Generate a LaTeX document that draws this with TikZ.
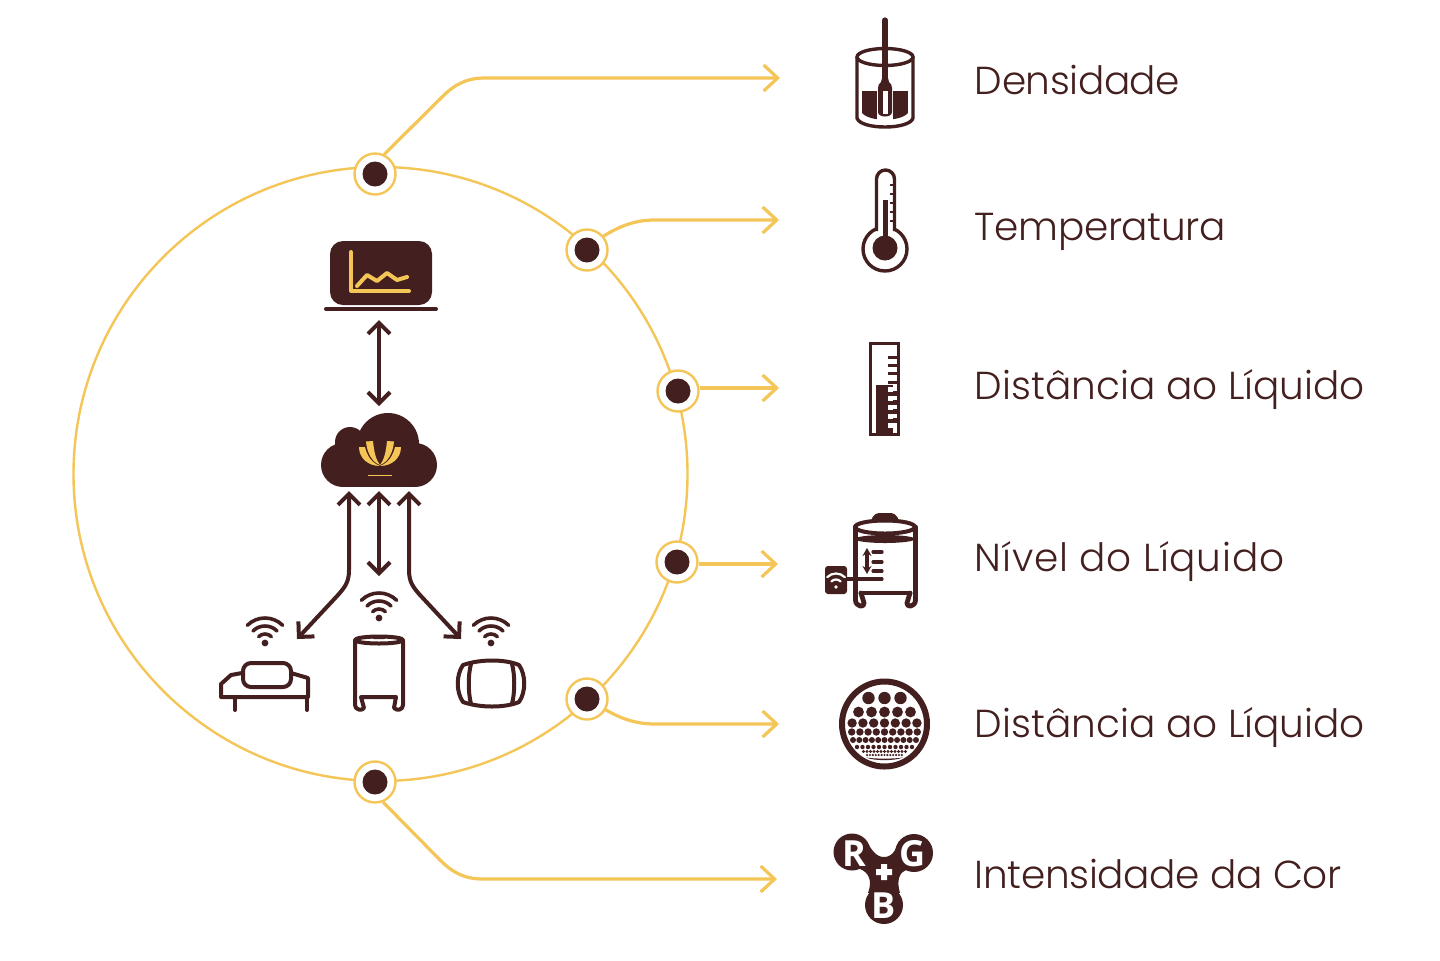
\documentclass[tikz,border=0pt]{standalone}
\usepackage{fontspec}
\setmainfont{Poppins}[UprightFont=* Light]
\newfontfamily\rgbf{Open Sans}
\usetikzlibrary{arrows.meta}
\definecolor{dk}{HTML}{43201F}
\definecolor{yl}{HTML}{F4C557}
\tikzset{
  x=0.5pt,y=-0.5pt,
  ring/.style={yl,line width=1.2pt},
  conn/.style={yl,line width=1.6pt,-{Straight Barb[length=7pt,width=13pt,line width=1.6pt]}},
  dot/.style={circle,draw=yl,fill=white,line width=1.2pt,minimum size=20.5pt,inner sep=0pt},
  link/.style={dk,line width=2pt,{Straight Barb[length=5.5pt,width=11pt]}-{Straight Barb[length=5.5pt,width=11pt]}},
  ln/.style={dk,line width=2pt,line cap=round,line join=round},
  lbl/.style={anchor=base west,text=dk,inner sep=0pt},
  wf/.style={dk,line width=1.8pt,line cap=round},
  wfw/.style={white,line width=1.1pt,line cap=round},
  rgb/.style={text=white,font=\rgbf\bfseries\fontsize{18}{18}\selectfont,inner sep=0pt}
}
\newcommand{\lblfont}[1]{\fontsize{19.5}{22}\selectfont\addfontfeatures{LetterSpace=#1}}
\newcommand{\wifi}[2]{%
  \fill[dk] (#1,#2) circle (3.4);
  \foreach \r in {9,17,25}{\draw[wf] ({#1+\r*cos(225)},{#2+\r*sin(225)}) arc[start angle=225,end angle=315,radius=\r*1];}
}
\begin{document}
\begin{tikzpicture}
\useasboundingbox (0,0) rectangle (1440,960);
\fill[white] (0,0) rectangle (1440,960);
\coordinate (c) at (380.5,474);
\coordinate (e1) at (780,78);
\coordinate (e2) at (779,220);
\coordinate (e3) at (779,388);
\coordinate (e4) at (778,564);
\coordinate (e5) at (779,724);
\coordinate (e6) at (777,879);
\draw[ring] (c) circle (307);
\node[dot] (d1) at (375,174) {};
\node[dot] (d2) at (587,250) {};
\node[dot] (d3) at (678,391) {};
\node[dot] (d4) at (677,562) {};
\node[dot] (d5) at (587,699) {};
\node[dot] (d6) at (375,782) {};
\foreach \n in {d1,d2,d3,d4,d5,d6}{\fill[dk] (\n) circle (12.5);}
\draw[conn] (d1.65) -- (442,97) .. controls (455,84) and (467,78) .. (485,78) -- (e1);
\draw[conn] (d2.40) .. controls (620,226) and (635,220) .. (655,220) -- (e2);
\draw[conn] (d3.east |- e3) -- (e3);
\draw[conn] (d4.east |- e4) -- (e4);
\draw[conn] (d5.-30) .. controls (620,718) and (635,724) .. (655,724) -- (e5);
\draw[conn] (d6.-68) -- (440,860) .. controls (453,873) and (465,879) .. (483,879) -- (e6);
% labels
\node[lbl,font=\lblfont{-1.1}] (t1) at (974.5,94) {Densidade};
\node[lbl,font=\lblfont{-0.9}] (t2) at (974.5,240) {Temperatura};
\node[lbl,font=\lblfont{0}] (t3) at (974.5,399) {Distância ao Líquido};
\node[lbl,font=\lblfont{1.9}] (t4) at (974.5,571) {Nível do Líquido};
\node[lbl,font=\lblfont{0}] (t5) at (974.5,737) {Distância ao Líquido};
\node[lbl,font=\lblfont{-0.85}] (t6) at (974.5,888) {Intensidade da Cor};
% laptop
\node[fill=dk,rounded corners=6.5pt,minimum width=51pt,minimum height=32pt,inner sep=0pt] (lap) at (381,273) {};
\draw[ln] (326,309) -- (436,309);
\draw[yl,line width=2pt,line cap=round,line join=round] (351,252) -- (351,291) -- (409,291);
\draw[yl,line width=2pt,line cap=round,line join=round] (357,286) -- (367,275) -- (377,281) -- (387,273) -- (397,280) -- (407,277);
% cloud
\fill[dk] (343,465) circle (22) (415,465) circle (22) (350,442) circle (15) (388,444) circle (31);
\fill[dk] (343,443) rectangle (415,487);
% lotus
\fill[yl] (359,447) -- (365,447) .. controls (367,456) and (372,463) .. (380,466) .. controls (368,466) and (359,458) .. (359,447) -- cycle;
\fill[yl] (401,447) -- (395,447) .. controls (393,456) and (388,463) .. (380,466) .. controls (392,466) and (401,458) .. (401,447) -- cycle;
\fill[yl] (366,441.5) -- (373,441) .. controls (374,452) and (376,460) .. (380,465) .. controls (372,462) and (367,453) .. (366,441.5) -- cycle;
\fill[yl] (394,441.5) -- (387,441) .. controls (386,452) and (384,460) .. (380,465) .. controls (388,462) and (393,453) .. (394,441.5) -- cycle;
\draw[yl,line width=.4pt] (368,475) -- (392,475);
% links
\draw[link] (379,320) -- (379,406);
\draw[link] (379,491) -- (379,576);
\draw[link] (349,491) -- (349,570) .. controls (349,582) and (345,587) .. (338,595) -- (297,639);
\draw[link] (409,491) -- (409,570) .. controls (409,582) and (413,587) .. (420,595) -- (461,639);
% wifi
\wifi{265}{643}\wifi{379}{618}\wifi{491}{643}
% couch
\draw[ln,rounded corners=4pt] (243,663) -- (291,663) -- (291,687) -- (243,687) -- cycle;
\draw[ln] (242,673) -- (231,675) -- (221,684) -- (221,697) -- (308,697) -- (308,678) -- (291,673);
\draw[ln] (235,697) -- (235,710);
\draw[ln] (307,697) -- (307,710);
% small tank
\draw[ln] (379,640) ellipse (24 and 3.5);
\fill[dk,rounded corners=1.5pt] (371,639) -- (373,635) -- (385,635) -- (387,639) -- cycle;
\draw[ln] (355,641) -- (355,705) .. controls (355,710) and (362,711) .. (364,708) -- (361,697) -- (396,697) -- (394,708) .. controls (397,711) and (403,710) .. (403,705) -- (403,641);
% barrel
\draw[ln] (463,665) .. controls (480,659) and (505,659) .. (519,665) .. controls (526,675) and (526,692) .. (519,702) .. controls (505,708) and (480,708) .. (463,702) .. controls (456,692) and (456,675) .. (463,665) -- cycle;
\draw[ln] (471,664) .. controls (468,675) and (468,692) .. (471,704);
\draw[ln] (512,664) .. controls (515,675) and (515,692) .. (512,704);
% beaker
\fill[dk] (862,91) rectangle (908,113);
\fill[dk] (862,113) .. controls (870,122) and (900,122) .. (908,113) -- cycle;
\fill[white] (877,91) rectangle (893,120);
\draw[dk,line width=1.7pt] (885,57) ellipse (28 and 8.5);
\draw[dk,line width=1.7pt] (857,57) -- (857,118) .. controls (860,130) and (910,130) .. (913,118) -- (913,57);
\draw[dk,line width=2.6pt,line cap=round] (885,20) -- (885,78);
\fill[dk] (882,78) -- (888,78) -- (889,82) .. controls (891,84) and (892,85) .. (892,88) -- (892,112) .. controls (892,118) and (878,118) .. (878,112) -- (878,88) .. controls (878,85) and (879,84) .. (881,82) -- cycle;
\fill[white] (882.5,91) rectangle (887.5,114);
% thermometer
\draw[dk,line width=1.7pt] (885,249) circle (22);
\fill[white] (877.5,225) rectangle (893.5,240);
\draw[dk,line width=1.7pt,line join=round] (876.5,231) -- (876.5,179) arc[start angle=180,end angle=360,radius=9] -- (894.5,231);
\fill[dk] (885,248) circle (12.5);
\fill[dk] (883,200) rectangle (888,240);
\foreach \yy in {185,194,203,212,221}{\draw[dk,line width=1.3pt] (890,\yy) -- (894,\yy);}
% ruler
\draw[dk,line width=1.7pt] (870.5,343.5) rectangle (898.5,434.5);
\fill[dk] (876,385) rectangle (893,433);
\foreach \yy in {357,365,373,382}{\draw[dk,line width=1.5pt] (888,\yy) -- (897,\yy);}
\foreach \yy in {389,398,407,416,425}{\fill[white] (888,\yy-2.5) rectangle (893,\yy+2.5);}
\foreach \yy in {393.5,402.5,411.5,420.5}{\fill[dk] (893,\yy-2.5) rectangle (897,\yy+2.5);}
% tank
\draw[ln] (885,527) ellipse (30 and 6.5);
\fill[dk,rounded corners=2pt] (870,522) -- (875,513) -- (895,513) -- (900,522) -- cycle;
\fill[dk] (885,539) ellipse (30 and 4);
\draw[ln,line width=2.4pt] (855.5,527) -- (855.5,600) .. controls (855.5,607) and (865,608) .. (864,603) -- (861,593);
\draw[ln,line width=2.4pt] (915.5,527) -- (915.5,600) .. controls (915.5,607) and (906,608) .. (907,603) -- (910,593);
\draw[ln,line width=2.4pt] (861,593) -- (910,593);
\draw[dk,line width=1.6pt,{Stealth[length=4pt,width=4.5pt]}-{Stealth[length=4pt,width=4.5pt]}] (867,548) -- (867,574);
\foreach \yy in {552,562,571}{\draw[ln,line width=1.6pt] (873,\yy) -- (882,\yy);}
\draw[ln,line width=1.6pt] (846,579) -- (882,579);
\fill[dk,rounded corners=1.5pt] (825,566) rectangle (847,594);
\fill[white] (836,587) circle (1.9);
\foreach \r in {6.5,12.5}{\draw[wfw] ({836+\r*cos(225)},{586+\r*sin(225)}) arc[start angle=225,end angle=315,radius=\r*1];}
% sieve
\draw[dk,line width=3pt] (884.5,724) circle (42.5);
\foreach \yy/\n/\s/\r in {698/3/16/6.2,712/5/13/5.4,723/7/10.8/4.7,732/9/8.2/3.7,740/11/6.3/3,747/11/5.5/2.2,751.5/13/3.5/1.6,755/13/2.9/1.2}{
  \foreach \i in {1,...,\n}{\fill[dk] ({884.5+(\i-(\n+1)/2)*\s},\yy) circle (\r);}
}
\fill[dk] (866,757.5) .. controls (875,759) and (894,759) .. (903,757.5) .. controls (895,761) and (874,761) .. (866,757.5) -- cycle;
% RGB
\fill[dk] (852,852) circle (18.5) (914,853) circle (19) (884,905) circle (19);
\fill[dk] (866,841) .. controls (872,850) and (876,857) .. (884,857) .. controls (892,857) and (896,850) .. (899,841) -- (906,870) .. controls (900,872) and (896,880) .. (900,893) -- (868,893) .. controls (873,880) and (868,872) .. (860,869) -- cycle;
\node[rgb] (r) at (854,854) {R};
\node[rgb] (g) at (913,854) {G};
\node[rgb] (b) at (884,906) {B};
\fill[white] (881,864) rectangle (887,880) (876,869) rectangle (892,875);
\end{tikzpicture}
\end{document}
